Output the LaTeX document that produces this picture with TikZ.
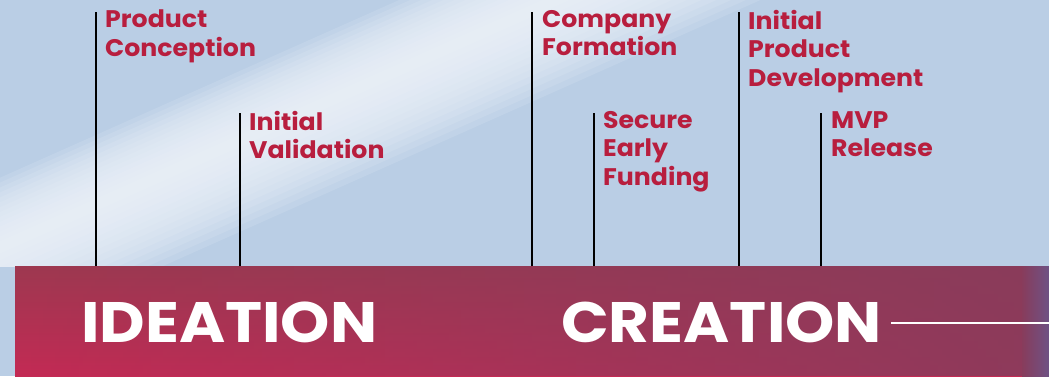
\documentclass[tikz,border=0pt]{standalone}
\usepackage{fontspec}
\setmainfont{Poppins}[UprightFont=* Bold, FakeStretch=1.05]
\newfontfamily\phasefont{Poppins}[UprightFont=* Bold, FakeStretch=1.1]
\usetikzlibrary{fadings}
\definecolor{skyblue}{RGB}{186,206,229}
\definecolor{haze}{RGB}{240,245,251}
\definecolor{labelred}{RGB}{184,30,62}
\definecolor{bandtop}{RGB}{158,56,80}
\definecolor{bandbottom}{RGB}{196,42,84}
\definecolor{bandright}{RGB}{136,60,92}
\definecolor{bandedge}{RGB}{110,82,132}
\tikzfading[name=rampright, left color=transparent!100, right color=transparent!0]
\tikzset{
  x=1pt, y=-1pt,
  milestone/.style={anchor=north west, align=left, text=labelred,
    font=\fontsize{24}{28.5}\selectfont, inner sep=0pt},
  tick/.style={line width=2.5pt, black},
  phase/.style={anchor=base west, text=white, inner sep=0pt,
    font=\phasefont\fontsize{57}{60}\selectfont}
}
\begin{document}
\begin{tikzpicture}
\useasboundingbox (0,0) rectangle (1049,376);
% sky background with a soft diagonal light streak
\fill[skyblue] (0,0) rectangle (1049,376);
\begin{scope}
  \clip (0,0) rectangle (1049,266);
  \begin{scope}[shift={(280,122)}, rotate=24]
    \foreach \w in {6,12,...,84}
      \fill[haze, opacity=0.14] (-900,-\w*0.75) rectangle (900,\w);
  \end{scope}
\end{scope}
% phase band: bright lower left, muted towards the top and the right
\shade[top color=bandtop, bottom color=bandbottom] (15,266) rectangle (1025,376);
\fill[bandright, path fading=rampright, opacity=0.9] (15,266) rectangle (1025,376);
\shade[left color=bandright, right color=bandedge] (1022,266) rectangle (1049,376);
% milestone ticks
\coordinate (b1) at (96,266);  \coordinate (t1) at (96,12);
\coordinate (b2) at (240,266); \coordinate (t2) at (240,113);
\coordinate (b3) at (532,266); \coordinate (t3) at (532,12);
\coordinate (b4) at (594,266); \coordinate (t4) at (594,113);
\coordinate (b5) at (739,266); \coordinate (t5) at (739,12);
\coordinate (b6) at (821,266); \coordinate (t6) at (821,113);
\foreach \i in {1,...,6} \draw[tick] (b\i) -- (t\i);
% milestone labels
\node[milestone] (m1) at (105,10) {Product\\Conception};
\node[milestone] (m2) at (249,111) {Initial\\Validation};
\node[milestone] (m3) at (542,10) {Company\\Formation};
\node[milestone] (m4) at (603,111) {Secure\\Early\\Funding};
\node[milestone] (m5) at (748,10) {Initial\\Product\\Development};
\node[milestone] (m6) at (831,111) {MVP\\Release};
% phase names
\node[phase] (p1) at (81,342) {IDEATION};
\node[phase] (p2) at (561,342) {CREATION};
\coordinate (arrowend) at (1049,323);
\draw[white, line width=2pt] (891,323) -- (arrowend);
\end{tikzpicture}
\end{document}
